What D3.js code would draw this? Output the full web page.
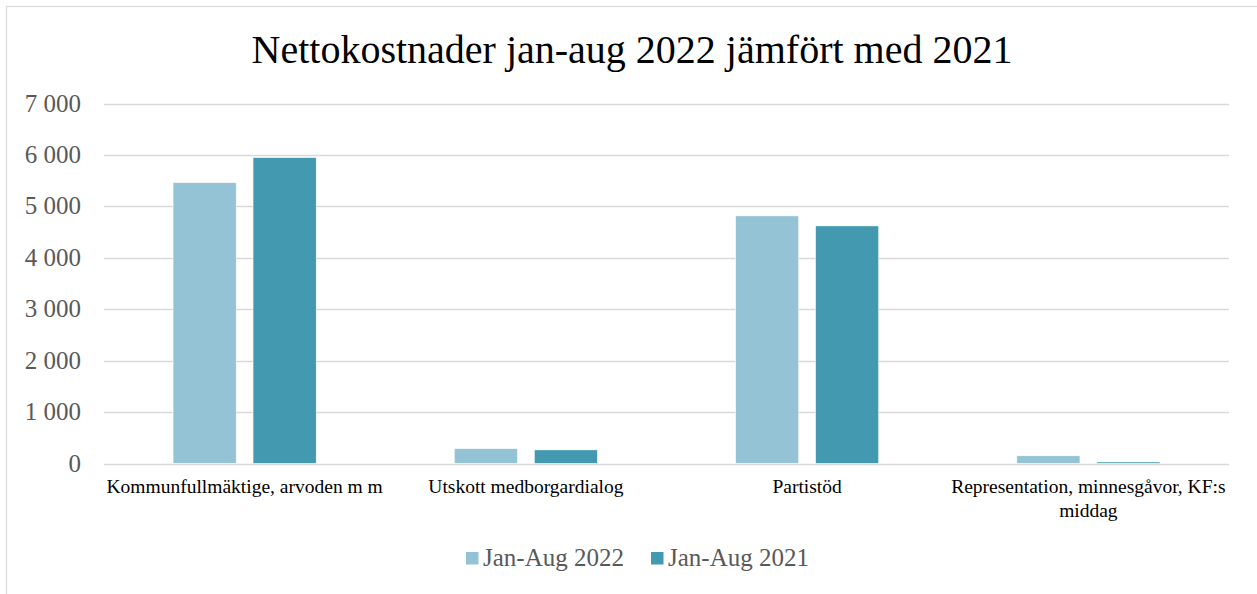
<!DOCTYPE html>
<html>
<head>
<meta charset="utf-8">
<script src="https://cdn.jsdelivr.net/npm/d3@7"></script>
<style>
  body { margin: 0; background: #fff; }
  text { font-family: "Liberation Serif", "DejaVu Serif", serif; }
</style>
</head>
<body>
<div id="chart"></div>
<script>
// Data
const categories = [
    ["Kommunfullmäktige, arvoden m m"],
    ["Utskott medborgardialog"],
    ["Partistöd"],
    ["Representation, minnesgåvor, KF:s", "middag"]
];
const seriesNames = ["Jan-Aug 2022", "Jan-Aug 2021"];
const values2022 = [5460, 290, 4815, 150];
const values2021 = [5950, 265, 4620, 30];
const yTicks = [0, 1000, 2000, 3000, 4000, 5000, 6000, 7000];

const colors = ["#93C3D4", "#4299B0"];

const width = 1257, height = 594;
const margin = { left: 104, right: 28, top: 103.5, bottom: 130.5 };

const svg = d3.select("#chart").append("svg")
    .attr("width", width)
    .attr("height", height);

// outer frame
svg.append("rect")
    .attr("x", 6.5).attr("y", 6.5)
    .attr("width", 1262).attr("height", 600)
    .attr("fill", "#fff")
    .attr("stroke", "#d9d9d9")
    .attr("stroke-width", 1.2);

// title
svg.append("text")
    .attr("x", 632)
    .attr("y", 63)
    .attr("text-anchor", "middle")
    .attr("font-size", 40)
    .attr("fill", "#000")
    .text("Nettokostnader jan-aug 2022 jämfört med 2021");

// scales
const catIdx = categories.map((d, i) => i);
const x0 = d3.scaleBand()
    .domain(catIdx)
    .range([margin.left, width - margin.right])
    .padding(0);

const x1 = d3.scaleBand()
    .domain([0, 1])
    .range([0, x0.bandwidth()])
    .paddingInner(0.21)
    .paddingOuter(0.863);

const y = d3.scaleLinear()
    .domain([0, 7000])
    .range([height - margin.bottom, margin.top]);

// grid lines
svg.append("g")
    .selectAll("line")
    .data(yTicks)
    .enter().append("line")
    .attr("x1", margin.left)
    .attr("x2", width - margin.right)
    .attr("y1", d => Math.round(y(d)) + 0.5)
    .attr("y2", d => Math.round(y(d)) + 0.5)
    .attr("stroke", "#d9d9d9")
    .attr("stroke-width", 1.5);

// y axis labels
const fmt = d => d3.format(",")(d).replace(/,/g, " ");
svg.append("g")
    .selectAll("text")
    .data(yTicks)
    .enter().append("text")
    .attr("x", 81)
    .attr("y", d => y(d) + 8)
    .attr("text-anchor", "end")
    .attr("font-size", 25)
    .attr("fill", "#595959")
    .text(fmt);

// bars
const series = [values2022, values2021];
series.forEach((vals, s) => {
    svg.append("g")
        .selectAll("rect")
        .data(vals)
        .enter().append("rect")
        .attr("x", (d, i) => x0(i) + x1(s))
        .attr("y", d => y(d))
        .attr("width", x1.bandwidth())
        .attr("height", d => y(0) - y(d))
        .attr("fill", colors[s])
        .attr("stroke", "#fff")
        .attr("stroke-width", 0.6);
});

// category labels
const catG = svg.append("g");
categories.forEach((lines, i) => {
    const cx = x0(i) + x0.bandwidth() / 2;
    const t = catG.append("text")
        .attr("x", cx)
        .attr("y", 493)
        .attr("text-anchor", "middle")
        .attr("font-size", 19.5)
        .attr("fill", "#000");
    lines.forEach((ln, k) => {
        t.append("tspan")
            .attr("x", cx)
            .attr("dy", k === 0 ? 0 : 24)
            .text(ln);
    });
});

// legend
const legendX = [466, 651];
seriesNames.forEach((name, s) => {
    svg.append("rect")
        .attr("x", legendX[s])
        .attr("y", 552)
        .attr("width", 12.5)
        .attr("height", 12.5)
        .attr("fill", colors[s]);
    svg.append("text")
        .attr("x", legendX[s] + 17)
        .attr("y", 566)
        .attr("font-size", 25)
        .attr("fill", "#595959")
        .text(name);
});
</script>
</body>
</html>
